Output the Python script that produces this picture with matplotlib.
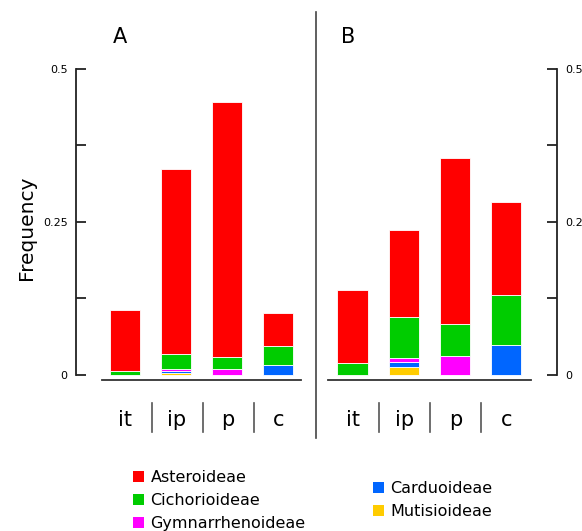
import matplotlib
matplotlib.use("Agg")
import matplotlib.pyplot as plt
import numpy as np
from matplotlib.patches import Patch
from matplotlib.lines import Line2D

plt.rcParams.update({'font.family': 'DejaVu Sans'})

W, H = 582, 531
categories = ["it", "ip", "p", "c"]
subfamilies = ["Mutisioideae", "Carduoideae", "Gymnarrhenoideae", "Cichorioideae", "Asteroideae"]
colours = ['#ffcc00', '#0066ff', '#ff00ff', '#00cc00', '#ff0000']

# panel A, bottom -> top of stack
mutA = [0.0, 0.004, 0.0, 0.0]
carA = [0.0, 0.003, 0.0, 0.016]
gymA = [0.0, 0.003, 0.010, 0.0]
cicA = [0.006, 0.024, 0.020, 0.031]
astA = [0.101, 0.303, 0.416, 0.055]

# panel B
mutB = [0.0, 0.013, 0.0, 0.0]
carB = [0.0, 0.009, 0.0, 0.049]
gymB = [0.0, 0.006, 0.031, 0.0]
cicB = [0.019, 0.067, 0.052, 0.082]
astB = [0.120, 0.142, 0.271, 0.152]

fig = plt.figure(figsize=(W / 100, H / 100), dpi=100)

def px(x0, y0, x1, y1):
    # pixel box -> figure fraction rect
    return [x0 / W, 1 - y1 / H, (x1 - x0) / W, (y1 - y0) / H]

ylo, yhi = -0.008, 0.514
axA = fig.add_axes(px(76, 60, 302, 380))
axB = fig.add_axes(px(328, 60, 557, 380))

def stacked(ax, series, xlim, side):
    x = np.arange(len(categories))
    bottom = np.zeros(len(categories))
    for vals, col in zip(series, colours):
        ax.bar(x, vals, 0.59, bottom=bottom, color=col, edgecolor='white', linewidth=0.6)
        bottom += np.array(vals)
    ax.set_xlim(*xlim)
    ax.set_ylim(ylo, yhi)
    ax.set_xticks([])
    for s in ['top', 'bottom', 'left', 'right']:
        ax.spines[s].set_visible(False)
    ax.spines[side].set_visible(True)
    ax.spines[side].set_bounds(0, 0.5)
    ax.spines[side].set_color('#222222')
    ax.spines[side].set_linewidth(1.3)
    ax.yaxis.set_ticks_position(side)
    ax.set_yticks([0, 0.25, 0.5])
    ax.set_yticklabels(["0", "0.25", "0.5"])
    ax.set_yticks([0.125, 0.375], minor=True)
    ax.tick_params(axis='y', which='both', direction='in', length=7, width=1.3,
                   color='#222222', labelsize=8, pad=6)
    ax.patch.set_alpha(0)

stacked(axA, [mutA, carA, gymA, cicA, astA], (-0.96, 3.47), 'left')
stacked(axB, [mutB, carB, gymB, cicB, astB], (-0.48, 3.99), 'right')

# baselines under the bars
axA.plot([-0.46, 3.46], [ylo, ylo], color='#333333', lw=1.3, clip_on=False)
axB.plot([-0.48, 3.49], [ylo, ylo], color='#333333', lw=1.3, clip_on=False)

# panel letters and y label
fig.text(120 / W, 1 - 37 / H, "A", fontsize=15, ha='center', va='center')
fig.text(348 / W, 1 - 37 / H, "B", fontsize=15, ha='center', va='center')
fig.text(26 / W, 1 - 228 / H, "Frequency", fontsize=14.5, rotation=90, ha='center', va='center')

# category labels and separators
centresA = [125, 176.7, 227.5, 278.3]
centresB = [353, 404.3, 455.5, 506.7]
for cx, lab in zip(centresA + centresB, categories * 2):
    fig.text(cx / W, 1 - 420 / H, lab, fontsize=15, ha='center', va='center')
for sx in [151.7, 202.7, 254, 379, 430, 481]:
    fig.add_artist(Line2D([sx / W, sx / W], [1 - 403 / H, 1 - 432 / H], color='#555555', lw=1.2))
fig.add_artist(Line2D([316 / W, 316 / W], [1 - 12 / H, 1 - 438 / H], color='#444444', lw=1.2))

# legend
def patches(names):
    return [Patch(facecolor=colours[subfamilies.index(n)], edgecolor='none') for n in names]

left = ["Asteroideae", "Cichorioideae", "Gymnarrhenoideae"]
right = ["Carduoideae", "Mutisioideae"]
kw = dict(loc='upper left', frameon=False, fontsize=11.5, borderpad=0, borderaxespad=0,
          handlelength=0.7, handleheight=0.7, handletextpad=0.4, labelspacing=0.5)
fig.legend(patches(left), left, bbox_to_anchor=(133 / W, 1 - 470 / H), **kw)
fig.legend(patches(right), right, bbox_to_anchor=(373 / W, 1 - 481 / H), **kw)

fig.savefig("out.png", dpi=100)
